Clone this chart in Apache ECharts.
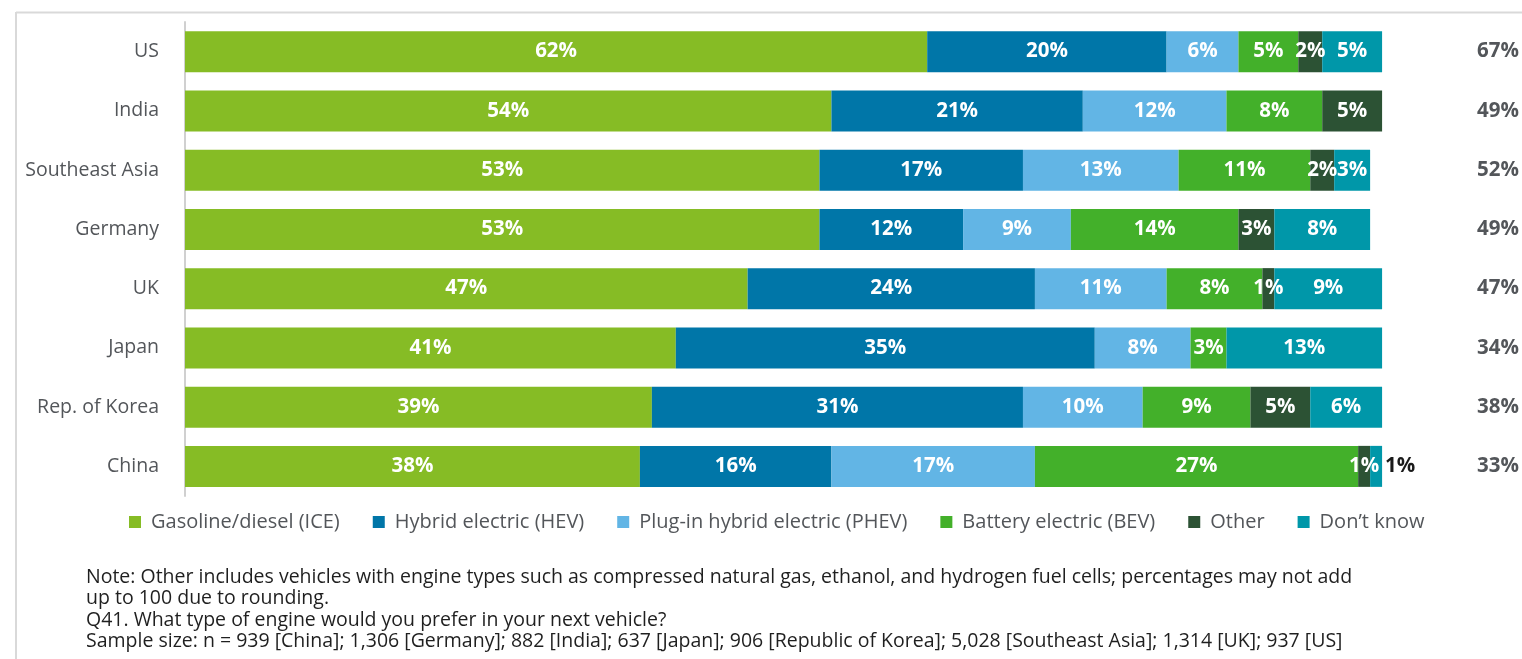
<!DOCTYPE html>
<html>
<head>
<meta charset="utf-8">
<script src="https://cdn.jsdelivr.net/npm/echarts@6/dist/echarts.min.js"></script>
<style>
  html, body { margin: 0; padding: 0; background: #fff; }
  #chart { width: 1522px; height: 659px; }
</style>
</head>
<body>
<div id="chart"></div>
<script>
// Preferred engine type for the next vehicle, by market (%)
const markets = ['US', 'India', 'Southeast Asia', 'Germany', 'UK', 'Japan', 'Rep. of Korea', 'China'];
const ice   = [62, 54, 53, 53, 47, 41, 39, 38];
const hev   = [20, 21, 17, 12, 24, 35, 31, 16];
const phev  = [6, 12, 13, 9, 11, 8, 10, 17];
const bev   = [5, 8, 11, 14, 8, 3, 9, 27];
const other = [2, 5, 2, 3, 1, 0, 5, 1];
const dontKnow = [5, 0, 3, 8, 9, 13, 6, 1];
const sideTotals = [67, 49, 52, 49, 47, 34, 38, 33];

const seriesNames = ['Gasoline/diesel (ICE)', 'Hybrid electric (HEV)', 'Plug-in hybrid electric (PHEV)',
  'Battery electric (BEV)', 'Other', 'Don\u2019t know'];
const seriesData = [ice, hev, phev, bev, other, dontKnow];
const colors = ['#86BC25', '#0076A8', '#62B5E5', '#43B02A', '#2C5234', '#0097A9'];

const notes = [
  'Note: Other includes vehicles with engine types such as compressed natural gas, ethanol, and hydrogen fuel cells; percentages may not add',
  'up to 100 due to rounding.',
  'Q41. What type of engine would you prefer in your next vehicle?',
  'Sample size: n = 939 [China]; 1,306 [Germany]; 882 [India]; 637 [Japan]; 906 [Republic of Korea]; 5,028 [Southeast Asia]; 1,314 [UK]; 937 [US]'
];

const FONT = '"Open Sans", "Noto Sans", sans-serif';

const chart = echarts.init(document.getElementById('chart'), null, { renderer: 'canvas' });

const series = seriesData.map((arr, si) => ({
  name: seriesNames[si],
  type: 'bar',
  stack: 'total',
  barWidth: 41,
  itemStyle: { color: colors[si] },
  label: {
    show: true,
    position: 'inside',
    color: '#fff',
    fontFamily: FONT,
    fontWeight: 'bold',
    fontSize: 20.5,
    textBorderWidth: 0,
    formatter: p => p.value + '%'
  },
  data: arr.map((v, i) => {
    if (v === 0) return { value: null, label: { show: false } };
    // last segment of China is too narrow: its label sits outside
    if (si === 5 && markets[i] === 'China') {
      return { value: v, label: { position: 'right', distance: 3, color: '#1a1a1a' } };
    }
    return v;
  })
}));

const graphic = [
  // light frame lines along the top and left
  { type: 'line', shape: { x1: 16, y1: 12.5, x2: 1522, y2: 12.5 }, style: { stroke: '#d9d9d9', lineWidth: 2 } },
  { type: 'line', shape: { x1: 16, y1: 12, x2: 16, y2: 659 }, style: { stroke: '#d9d9d9', lineWidth: 2 } }
];
notes.forEach((t, i) => {
  graphic.push({
    type: 'text',
    x: 86,
    y: 577 + i * 21.5,
    style: { text: t, fill: '#1f1f1f', font: '19.5px ' + FONT, verticalAlign: 'middle' }
  });
});

chart.setOption({
  animation: false,
  backgroundColor: '#fff',
  color: colors,
  grid: { left: 185, top: 22, width: 1199, height: 474, containLabel: false },
  xAxis: { type: 'value', min: 0, max: 100, show: false },
  yAxis: [
    {
      type: 'category',
      data: markets,
      inverse: true,
      axisLine: { show: true, lineStyle: { color: '#d0d0d0', width: 2 } },
      axisTick: { show: false },
      axisLabel: { margin: 26, color: '#53565A', fontSize: 19.5, fontFamily: FONT }
    },
    {
      type: 'category',
      data: sideTotals.map(v => v + '%'),
      inverse: true,
      position: 'right',
      axisLine: { show: false },
      axisTick: { show: false },
      axisLabel: { margin: 95, color: '#53565A', fontSize: 20.5, fontWeight: 'bold', fontFamily: FONT }
    }
  ],
  legend: {
    left: 124,
    top: 507,
    itemWidth: 12,
    itemHeight: 12,
    itemGap: 33,
    icon: 'rect',
    textStyle: { color: '#53565A', fontSize: 20, fontFamily: FONT, padding: [0, 0, 0, 5] },
    data: seriesNames
  },
  graphic: graphic,
  series: series
});
</script>
</body>
</html>
